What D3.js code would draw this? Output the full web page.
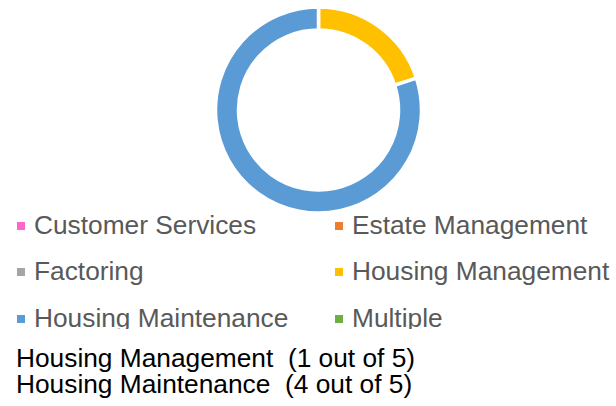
<!DOCTYPE html>
<html>
<head>
<meta charset="utf-8">
<script src="https://cdn.jsdelivr.net/npm/d3@7"></script>
<style>
  body { margin: 0; background: #fff; }
  text { font-family: "Liberation Sans", Arial, sans-serif; }
</style>
</head>
<body>
<div id="chart"></div>
<script>
var width = 616;
var height = 406;

// data
var categories = ['Customer Services', 'Estate Management', 'Factoring', 'Housing Management', 'Housing Maintenance', 'Multiple'];
var counts = [0, 0, 0, 1, 4, 0];
var colors = ['#ff66cc', '#ed7d31', '#a5a5a5', '#ffc000', '#5b9bd5', '#70ad47'];

var total = d3.sum(counts);
var rows = categories.map((c, i) => ({name: c, value: counts[i], color: colors[i]}));

var svg = d3.select('#chart').append('svg')
      .attr('width', width)
      .attr('height', height);

// donut
var cx = 318.5, cy = 110;
var outerR = 103, innerR = 80;

var pie = d3.pie().sort(null).value(d => d.value);
var arc = d3.arc().innerRadius(innerR).outerRadius(outerR);

svg.append('g')
      .attr('transform', 'translate(' + cx + ',' + cy + ')')
   .selectAll('path')
      .data(pie(rows).filter(d => d.data.value > 0))
   .enter().append('path')
      .attr('d', arc)
      .style('fill', d => d.data.color)
      .style('stroke', '#fff')
      .style('stroke-width', 3.5);

// legend (2 columns, bottom row clipped)
svg.append('clipPath').attr('id', 'legendClip')
   .append('rect').attr('x', 0).attr('y', 200).attr('width', width).attr('height', 129);

var colX = [17, 335];
var rowY = [234, 280, 327];
var legend = svg.append('g').attr('clip-path', 'url(#legendClip)');

var item = legend.selectAll('g')
      .data(rows)
   .enter().append('g')
      .attr('transform', (d, i) => 'translate(' + colX[i % 2] + ',' + rowY[Math.floor(i / 2)] + ')');

item.append('rect')
      .attr('x', 0).attr('y', -12)
      .attr('width', 8).attr('height', 8)
      .style('fill', d => d.color);

item.append('text')
      .attr('x', 17).attr('y', 0)
      .style('font-size', '26.3px')
      .style('fill', '#595959')
      .text(d => d.name);

// summary lines
var summary = rows.filter(d => d.value > 0);
svg.selectAll('.summary')
      .data(summary)
   .enter().append('text')
      .attr('class', 'summary')
      .attr('x', 16)
      .attr('y', (d, i) => 367 + i * 26)
      .attr('xml:space', 'preserve')
      .style('white-space', 'pre')
      .style('font-size', '26.3px')
      .style('fill', '#000')
      .text(d => d.name + '  (' + d.value + ' out of ' + total + ')');
</script>
</body>
</html>
